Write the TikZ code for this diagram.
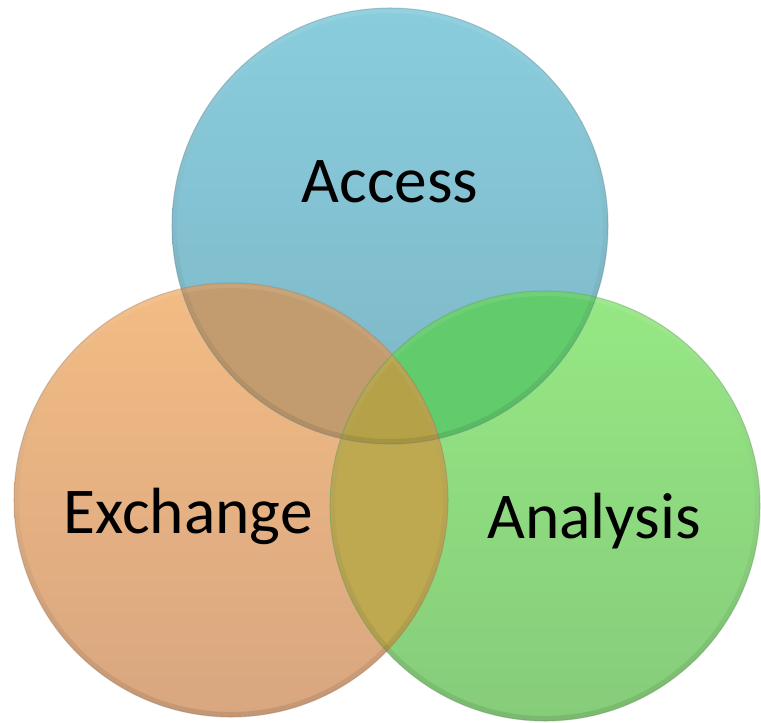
\documentclass[tikz,border=0pt]{standalone}
\usepackage{fontspec}
\setmainfont{Carlito}
\usepackage{tikz}

\definecolor{accesstop}{RGB}{137,205,221}
\definecolor{accessbot}{RGB}{125,182,198}
\definecolor{exchtop}{RGB}{243,188,132}
\definecolor{exchbot}{RGB}{216,166,128}
\definecolor{anatop}{RGB}{150,232,132}
\definecolor{anabot}{RGB}{134,204,122}
\definecolor{accexch}{RGB}{194,156,110}
\definecolor{accana}{RGB}{98,204,108}
\definecolor{exchana}{RGB}{190,169,80}
\definecolor{allthree}{RGB}{181,162,72}

\newcommand{\accessdisc}{(390,226) circle (218)}
\newcommand{\exchangedisc}{(231,500) circle (217)}
\newcommand{\analysisdisc}{(545,506) circle (215)}

\begin{document}
\begin{tikzpicture}[x=0.75pt,y=0.75pt,yscale=-1,xscale=1,
  rim/.style={even odd rule,top color=white,bottom color=black,opacity=0.09},
  edge/.style={line width=0.8pt,opacity=0.35},
  setname/.style={font=\fontsize{49}{58}\selectfont,anchor=base,inner sep=0pt}]
\useasboundingbox (0,0) rectangle (761,722);

%Discs
\shade[top color=accesstop,bottom color=accessbot] \accessdisc;
\shade[top color=exchtop,bottom color=exchbot] \exchangedisc;
\shade[top color=anatop,bottom color=anabot] \analysisdisc;

%Overlaps with Access
\begin{scope}
\clip \accessdisc;
\fill[accexch] \exchangedisc;
\fill[accana] \analysisdisc;
\end{scope}
%Overlap Exchange / Analysis, and all three
\begin{scope}
\clip \exchangedisc;
\fill[exchana] \analysisdisc;
\clip \analysisdisc;
\fill[allthree] \accessdisc;
\end{scope}

%Bevelled rims
\shade[rim] (390,226) circle (218) (390,226) circle (213);
\shade[rim] (231,500) circle (217) (231,500) circle (212);
\shade[rim] (545,506) circle (215) (545,506) circle (210);

%Outlines
\draw[edge,accessbot!70!black] \accessdisc;
\draw[edge,exchbot!70!black] \exchangedisc;
\draw[edge,anabot!70!black] \analysisdisc;

% Text Nodes
\node[setname] (access) at (390,202) {Access};
\node[setname] (exchange) at (188,533) {Exchange};
\node[setname] (analysis) at (594,538) {Analysis};

\end{tikzpicture}
\end{document}
